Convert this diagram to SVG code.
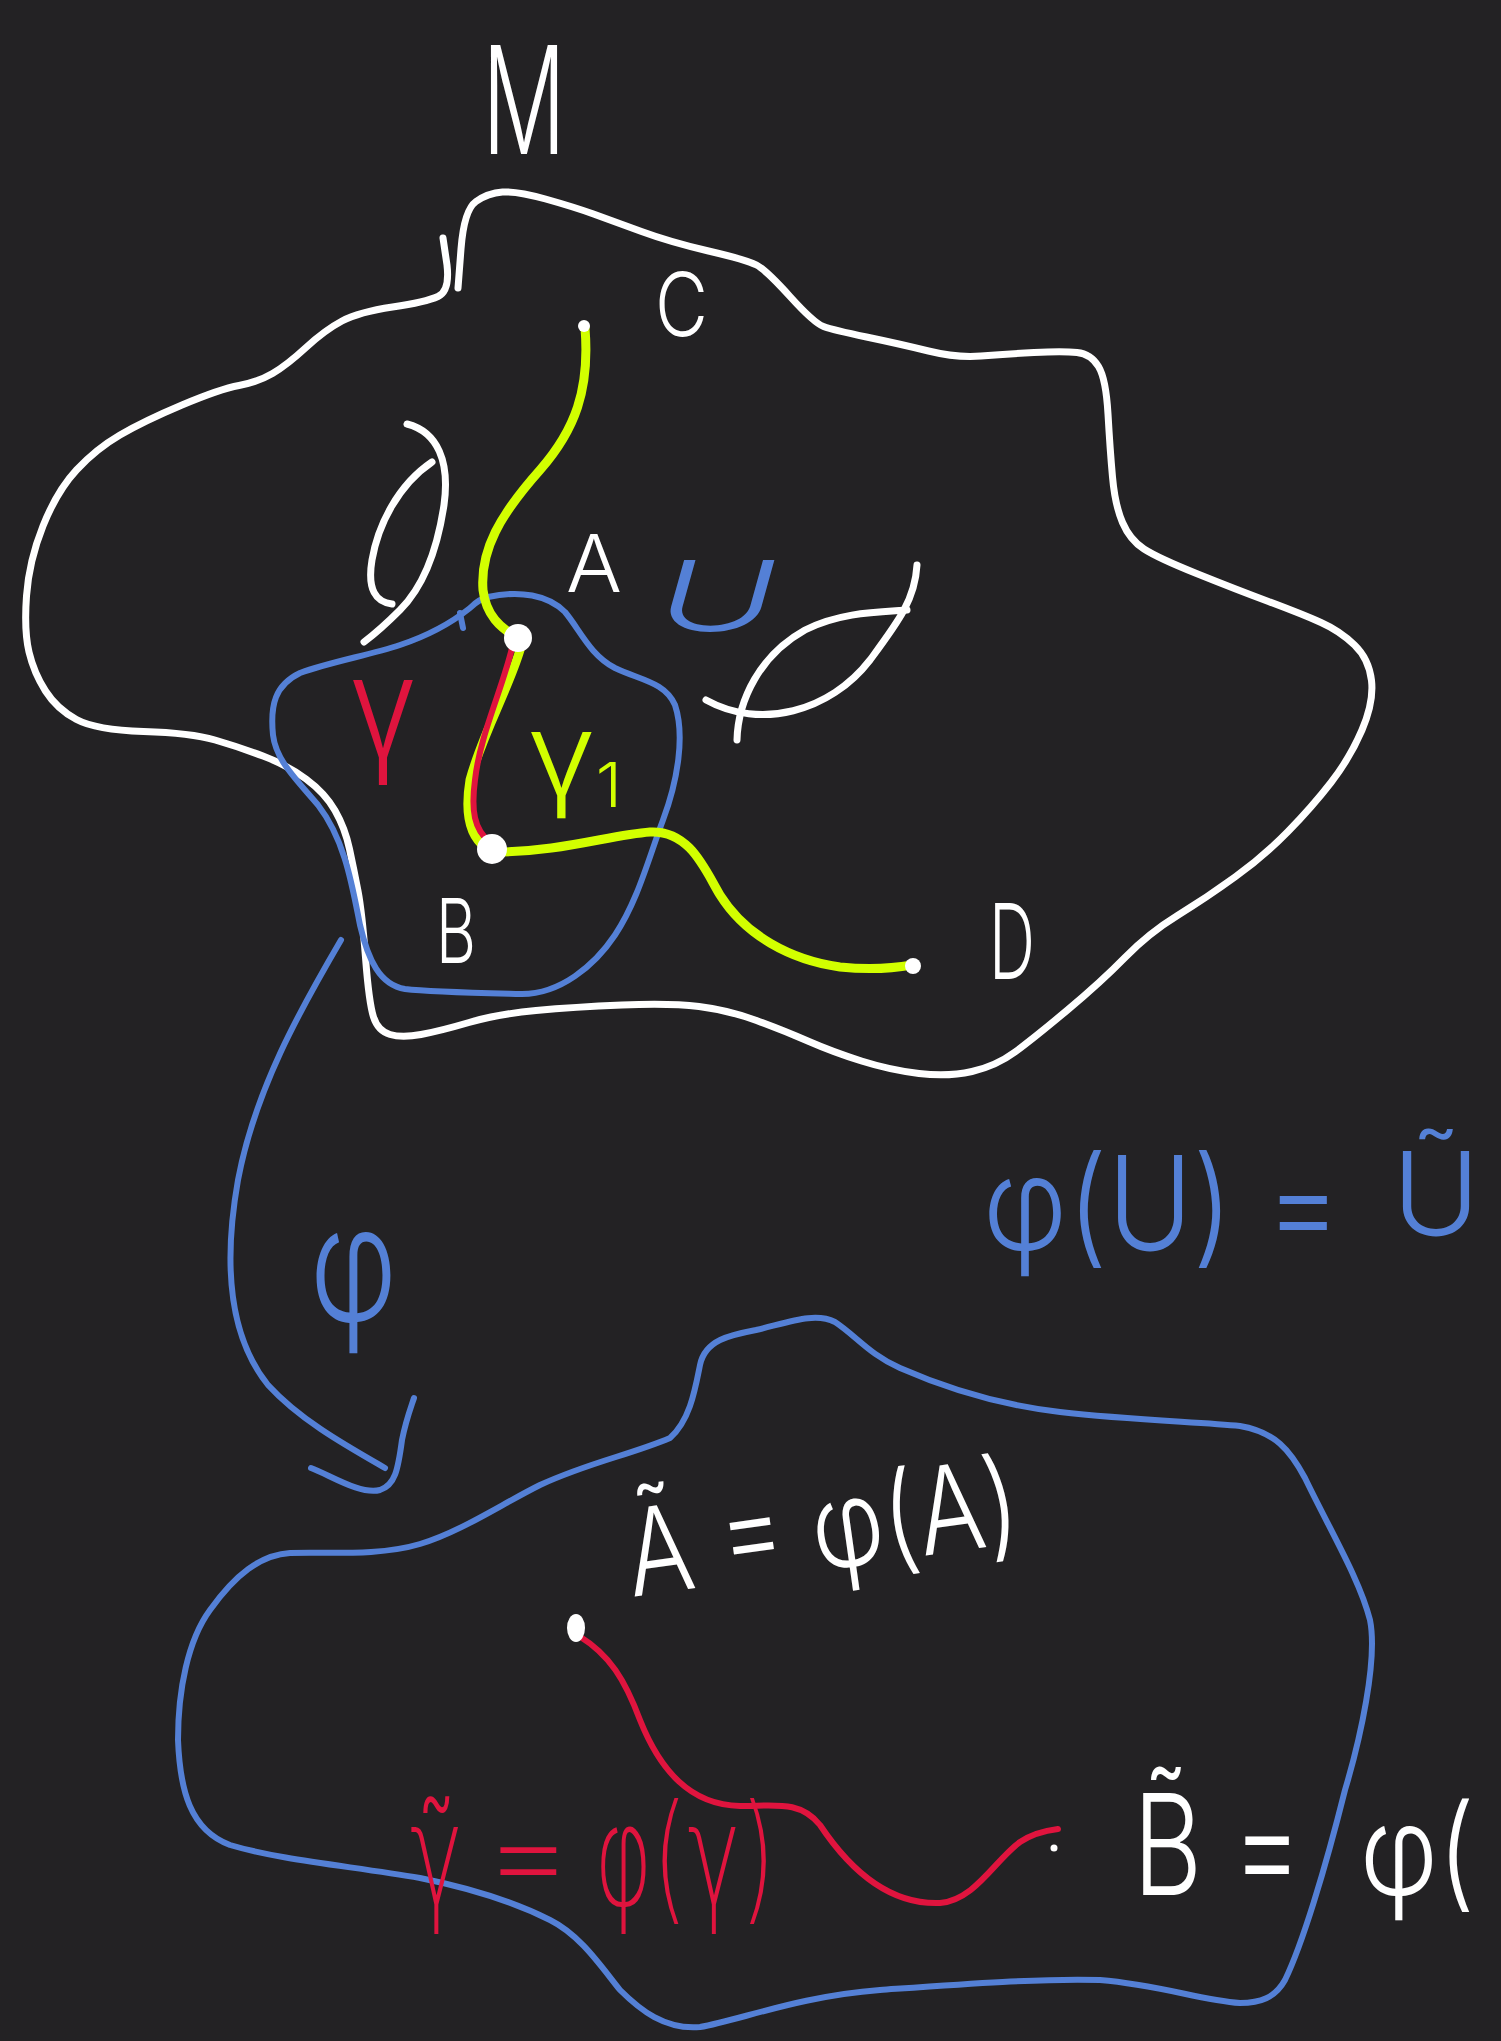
<svg xmlns="http://www.w3.org/2000/svg" width="1501" height="2041" viewBox="0 0 1501 2041">
<style>
.w{fill:none;stroke:#ffffff;stroke-width:7;stroke-linecap:round;stroke-linejoin:round}
.b{fill:none;stroke:#5480d6;stroke-width:6;stroke-linecap:round;stroke-linejoin:round}
.y{fill:none;stroke:#d2ff00;stroke-width:9;stroke-linecap:round;stroke-linejoin:round}
.r{fill:none;stroke:#e0143e;stroke-width:6;stroke-linecap:round;stroke-linejoin:round}
text{font-family:"Inter","Roboto","Liberation Sans",sans-serif;font-weight:300}
.dv{font-family:"DejaVu Sans","Liberation Sans",sans-serif}
.tw{fill:#ffffff}.tb{fill:#5480d6}.ty{fill:#d2ff00}.tr{fill:#e0143e}
</style>
<rect x="0" y="0" width="1501" height="2041" fill="#232224"/>

<g id="manifold-M">
<path class="w" d="M 458,288 L 461,249 Q 464,210 476,201.5 Q 488,193 502.5,192 Q 517,191 545.5,199 Q 574,207 593.5,214 Q 613,221 641.5,231.5 Q 670,242 708.5,251 Q 747,260 756.5,265 Q 766,270 790,296.5 Q 814,323 823.5,326.5 Q 833,330 866.5,337 Q 900,344 928.5,351 Q 957,358 981,356 Q 1005,354 1034,352.5 Q 1063,351 1077,352.5 Q 1091,354 1098.5,366.5 Q 1106,379 1108,414 Q 1110,449 1112.5,477 Q 1115,505 1122.5,522.5 Q 1130,540 1144,549 Q 1158,558 1196.5,573.5 Q 1235,589 1268.5,601.5 Q 1302,614 1321,622.5 Q 1340,631 1354.5,645 Q 1369,659 1371.5,680.5 Q 1374,702 1362,730 Q 1350,758 1331,782.5 Q 1312,807 1288,831.5 Q 1264,856 1235,877 Q 1206,898 1177.5,915.5 Q 1149,933 1125,957.5 Q 1101,982 1067.5,1010 Q 1034,1038 1015,1052 Q 996,1066 972,1071.5 Q 948,1077 919,1073.5 Q 890,1070 861.5,1061 Q 833,1052 809,1041.5 Q 785,1031 756.5,1020.5 Q 728,1010 699,1006.5 Q 670,1003 622,1005 Q 574,1007 536,1010.5 Q 498,1014 469,1022.5 Q 440,1031 421,1034.5 Q 402,1038 390,1034.5 Q 378,1031 373.5,1017 Q 369,1003 365.5,957.5 Q 362,912 358,891 Q 354,870 349.5,849 Q 345,828 335,810.5 Q 325,793 306,779 Q 287,765 263,756 Q 239,747 215,740 Q 191,733 143.5,731.5 Q 96,730 76.5,719.5 Q 57,709 45.5,691 Q 34,673 29,652 Q 24,631 26.5,596 Q 29,561 43,526 Q 57,491 76.5,470 Q 96,449 120,435 Q 144,421 182,405 Q 220,389 239,385.5 Q 258,382 272.5,373.5 Q 287,365 306,347.5 Q 325,330 342,321 Q 359,312 392.5,307 Q 426,302 438,296.5 Q 450,291 447,265 L 443,238"/>
</g>

<g id="hole-left">
<path class="w" d="M 407,424 C 438,432 450,462 444,505 C 438,545 425,585 400,610 C 385,625 372,636 364,642"/>
<path class="w" d="M 432,462 C 398,485 378,525 372,560 C 367,590 376,602 392,604"/>
</g>
<g id="hole-right">
<path class="w" d="M 706,700 C 760,730 830,712 870,660 C 898,622 915,600 917,565"/>
<path class="w" d="M 737,740 C 738,700 760,655 805,630 C 840,612 880,612 907,610"/>
</g>

<g id="region-U">
<path class="b" d="M 488,597 C 520,590 548,595 565,612 C 580,630 590,655 615,668 C 640,680 665,682 675,705 C 685,735 678,780 663,820 C 648,860 638,900 615,935 C 595,965 560,995 520,994 C 480,993 430,992 405,989 C 380,985 368,960 360,925 C 352,885 345,840 318,805 C 295,778 276,760 273,735 C 270,705 275,685 300,673 C 330,662 370,655 400,645 C 430,635 455,620 470,608 C 478,600 483,598 488,597 Z"/>
<path class="b" d="M 460,613 L 463,628"/>
</g>

<g id="region-U-tilde">
<path class="b" d="M 670,1438 C 690,1420 695,1390 700,1365 C 705,1340 730,1335 756,1330 C 790,1322 815,1312 835,1322 C 855,1335 870,1355 900,1368 C 950,1390 1000,1405 1060,1412 C 1130,1420 1200,1422 1240,1426 C 1275,1432 1290,1450 1305,1478 C 1330,1530 1360,1580 1370,1620 C 1378,1660 1360,1740 1345,1790 C 1325,1870 1302,1945 1285,1980 C 1275,1998 1260,2003 1240,2003 C 1200,2000 1160,1985 1100,1980 C 1040,1978 950,1985 880,1990 C 800,1996 740,2020 700,2027 C 665,2030 640,2010 620,1990 C 600,1965 580,1935 550,1920 C 510,1900 470,1888 420,1878 C 350,1866 280,1860 230,1845 C 190,1830 180,1790 178,1740 C 178,1690 188,1640 210,1610 C 235,1575 260,1555 290,1553 C 330,1552 380,1556 420,1544 C 460,1532 500,1505 540,1485 C 590,1462 630,1455 670,1438 Z"/>
</g>

<g id="connectors">
<path id="curve-C-A" class="y" d="M 585,328 C 590,390 575,430 540,470 C 500,515 480,550 483,590 C 486,615 500,628 518,638"/>
<path id="curve-A-B-gamma1" class="y" d="M 520,650 C 508,690 482,735 470,780 C 465,810 468,835 486,848"/>
<path id="curve-A-B-gamma" class="r" d="M 512,648 C 502,690 480,735 475,780 C 471,810 474,830 490,842"/>
<path id="curve-B-D" class="y" d="M 495,852 C 560,852 610,835 650,832 C 690,830 705,870 720,895 C 745,935 790,960 840,967 C 870,970 895,968 912,965"/>
<path id="arrow-phi" class="b" d="M 341,940 C 300,1010 255,1090 238,1180 C 222,1270 232,1340 268,1385 C 300,1420 345,1445 385,1468"/>
<path id="arrow-phi-head" class="b" d="M 311,1468 C 330,1475 360,1495 380,1490 C 395,1485 398,1470 402,1440 C 406,1420 410,1410 414,1398"/>
<path id="curve-gamma-tilde" class="r" d="M 579,1636 C 610,1655 625,1680 640,1720 C 660,1770 690,1805 740,1806 C 775,1806 800,1800 820,1825 C 850,1870 890,1905 940,1903 C 975,1900 995,1860 1020,1842 C 1035,1832 1050,1830 1058,1829"/>
</g>

<g id="points">
<circle id="pt-A" cx="518" cy="638" r="14" fill="#ffffff"/>
<circle id="pt-B" cx="492" cy="849" r="15" fill="#ffffff"/>
<circle id="pt-C" cx="584" cy="326" r="6" fill="#ffffff"/>
<circle id="pt-D" cx="913" cy="966" r="8" fill="#ffffff"/>
<ellipse id="pt-A-tilde" cx="576" cy="1628" rx="9" ry="14" fill="#ffffff"/>
<circle id="pt-B-tilde" cx="1054" cy="1848" r="3.5" fill="#ffffff"/>
</g>

<g id="labels">
<text class="tw" x="482" y="154" font-size="150" textLength="84" lengthAdjust="spacingAndGlyphs">M</text>
<text class="tw" x="655" y="336" font-size="88" textLength="53" lengthAdjust="spacingAndGlyphs">C</text>
<text class="tw" x="566" y="592" font-size="80" textLength="56" lengthAdjust="spacingAndGlyphs">A</text>
<text class="tb" x="657" y="631" font-size="98" font-style="italic" textLength="120" lengthAdjust="spacingAndGlyphs">U</text>
<text class="tw" x="436" y="963" font-size="90" textLength="40" lengthAdjust="spacingAndGlyphs">B</text>
<text class="tw" x="989" y="979" font-size="105" textLength="46" lengthAdjust="spacingAndGlyphs">D</text>
<text class="tr" x="349" y="756" font-size="140" textLength="68" lengthAdjust="spacingAndGlyphs">γ</text>
<text class="ty" x="527" y="795" font-size="115" textLength="95" lengthAdjust="spacingAndGlyphs">γ<tspan font-size="62" dy="12">1</tspan></text>
<text class="tb" x="310" y="1321" font-size="160" textLength="87" lengthAdjust="spacingAndGlyphs">φ</text>
<text class="tb" x="983" y="1250" font-size="130" textLength="358" lengthAdjust="spacingAndGlyphs">φ(U) =</text>
<text class="tb" x="1392" y="1235" font-size="115" textLength="88" lengthAdjust="spacingAndGlyphs">Ũ</text>
<text class="tw" x="632" y="1597" font-size="120" textLength="395" lengthAdjust="spacingAndGlyphs" transform="rotate(-8 632 1597)">Ã = φ(A)</text>
<text class="tw" x="1133" y="1895" font-size="140" textLength="169" lengthAdjust="spacingAndGlyphs">B̃ =</text>
<text class="tw" x="1360" y="1895" font-size="125" textLength="115" lengthAdjust="spacingAndGlyphs">φ(</text>
<text class="tr dv" x="410" y="1905" font-size="140" textLength="365" lengthAdjust="spacingAndGlyphs">γ̃ = φ(γ)</text>
</g>
</svg>
